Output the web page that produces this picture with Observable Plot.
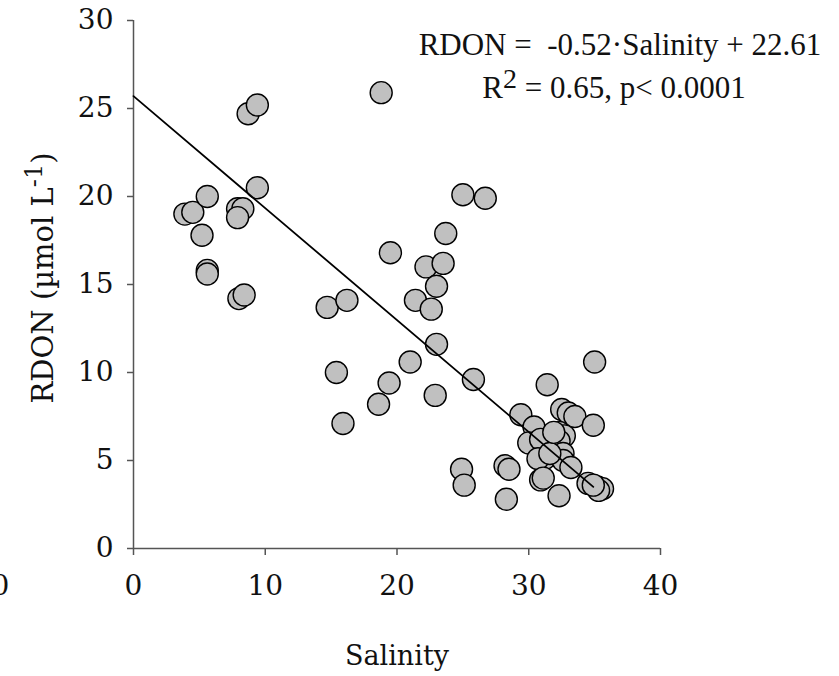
<!DOCTYPE html>
<html><head><meta charset="utf-8">
<script src="https://cdn.jsdelivr.net/npm/d3@7"></script>
<script src="https://cdn.jsdelivr.net/npm/@observablehq/plot@0.6"></script>
<style>body{margin:0;background:#fff}#chart svg{display:block}</style>
</head><body><div id="chart"></div>
<script>
const salinity = [3.9,4.5,5.2,5.6,5.6,5.6,8.0,8.4,7.9,8.3,7.9,9.4,8.7,9.4,18.8,25.0,26.7,23.7,19.5,22.2,23.5,23.0,21.4,22.6,14.7,16.2,23.0,21.0,25.8,15.4,19.4,18.6,22.9,15.9,24.9,25.1,28.2,28.5,28.3,35.0,31.4,29.4,32.5,33.0,33.5,34.9,30.4,30.0,32.3,32.7,32.3,30.9,31.2,32.6,32.6,30.7,33.2,30.9,32.3,31.1,34.5,35.2,35.6,35.3,34.9,31.6,31.9];
const rdon = [19.0,19.1,17.8,20.0,15.8,15.6,14.2,14.4,19.3,19.3,18.8,20.5,24.7,25.2,25.9,20.1,19.9,17.9,16.8,16.0,16.2,14.9,14.1,13.6,13.7,14.1,11.6,10.6,9.6,10.0,9.4,8.2,8.7,7.1,4.5,3.6,4.7,4.5,2.8,10.6,9.3,7.6,7.9,7.7,7.5,7.0,6.9,6.0,6.6,6.4,6.1,6.2,5.1,5.4,5.0,5.1,4.6,3.9,3.0,4.0,3.7,3.5,3.4,3.3,3.6,5.4,6.6];
const fitSalinity = [0, 34.9];
const fitRdon = [25.7, 3.5];
const xTicks = [0, 10, 20, 30, 40];
const yTicks = [0, 5, 10, 15, 20, 25, 30];
const strayTick = {value: -10, label: "0"};
const equationLine1 = "RDON =  -0.52·Salinity + 22.61";
const equationLine2 = ["R", "2", " = 0.65, p< 0.0001"];
const xTitle = "Salinity";
const yTitle = ["RDON (µmol L", "-1", ")"];

const points = salinity.map((s, i) => ({s, r: rdon[i]}));
const fit = fitSalinity.map((s, i) => ({s, r: fitRdon[i]}));

const axisColor = "#555";
const tickFont = "DejaVu Serif";

const plot = Plot.plot({
  width: 839, height: 676,
  marginLeft: 133, marginRight: 179, marginTop: 20, marginBottom: 128,
  style: {fontFamily: tickFont, fontSize: "28px", color: "#111", background: "#fff"},
  x: {domain: [0, 40]},
  y: {domain: [0, 30]},
  marks: [
    Plot.axisX({ticks: xTicks, tickSize: 7, tickPadding: 20, label: null, stroke: axisColor, strokeWidth: 1.5, fill: "#111"}),
    Plot.axisY({ticks: yTicks, tickSize: 6, tickPadding: 14, label: null, stroke: axisColor, strokeWidth: 1.5, fill: "#111"}),
    Plot.ruleY([0], {stroke: axisColor, strokeWidth: 1.5}),
    Plot.ruleX([0], {stroke: axisColor, strokeWidth: 1.5}),
    Plot.dot(points, {x: "s", y: "r", r: 11, fill: "#c0c0c0", stroke: "#000", strokeWidth: 1.4}),
    Plot.line(fit, {x: "s", y: "r", stroke: "#000", strokeWidth: 1.8})
  ]
});
document.getElementById("chart").append(plot);

const svg = d3.select(plot);
const xs = plot.scale("x"), ys = plot.scale("y");

// partial tick label at the left edge (as in the reference)
svg.append("text")
  .attr("x", xs.apply(strayTick.value) + 8)
  .attr("y", ys.apply(0) + 47)
  .attr("text-anchor", "end")
  .attr("font-family", tickFont).attr("font-size", 28).attr("fill", "#111")
  .text(strayTick.label);

// x title
svg.append("text")
  .attr("x", 397).attr("y", 665)
  .attr("text-anchor", "middle")
  .attr("font-family", tickFont).attr("font-size", 27).attr("fill", "#111")
  .text(xTitle);

// y title
const yt = svg.append("text")
  .attr("transform", "translate(53,278) rotate(-90)")
  .attr("text-anchor", "middle")
  .attr("font-family", tickFont).attr("font-size", 29).attr("fill", "#111");
yt.append("tspan").text(yTitle[0]);
yt.append("tspan").attr("dy", -11).attr("font-size", 24).text(yTitle[1]);
yt.append("tspan").attr("dy", 11).text(yTitle[2]);

// equation
const eqFont = "Liberation Serif";
svg.append("text")
  .attr("x", 620).attr("y", 55)
  .attr("text-anchor", "middle")
  .attr("font-family", eqFont).attr("font-size", 31).attr("fill", "#111")
  .style("white-space", "pre")
  .text(equationLine1);
const e2 = svg.append("text")
  .attr("x", 614).attr("y", 98)
  .attr("text-anchor", "middle")
  .attr("font-family", eqFont).attr("font-size", 31).attr("fill", "#111")
  .style("white-space", "pre");
e2.append("tspan").text(equationLine2[0]);
e2.append("tspan").attr("dy", -10).attr("font-size", 28).text(equationLine2[1]);
e2.append("tspan").attr("dy", 10).text(equationLine2[2]);
</script>
</body></html>
